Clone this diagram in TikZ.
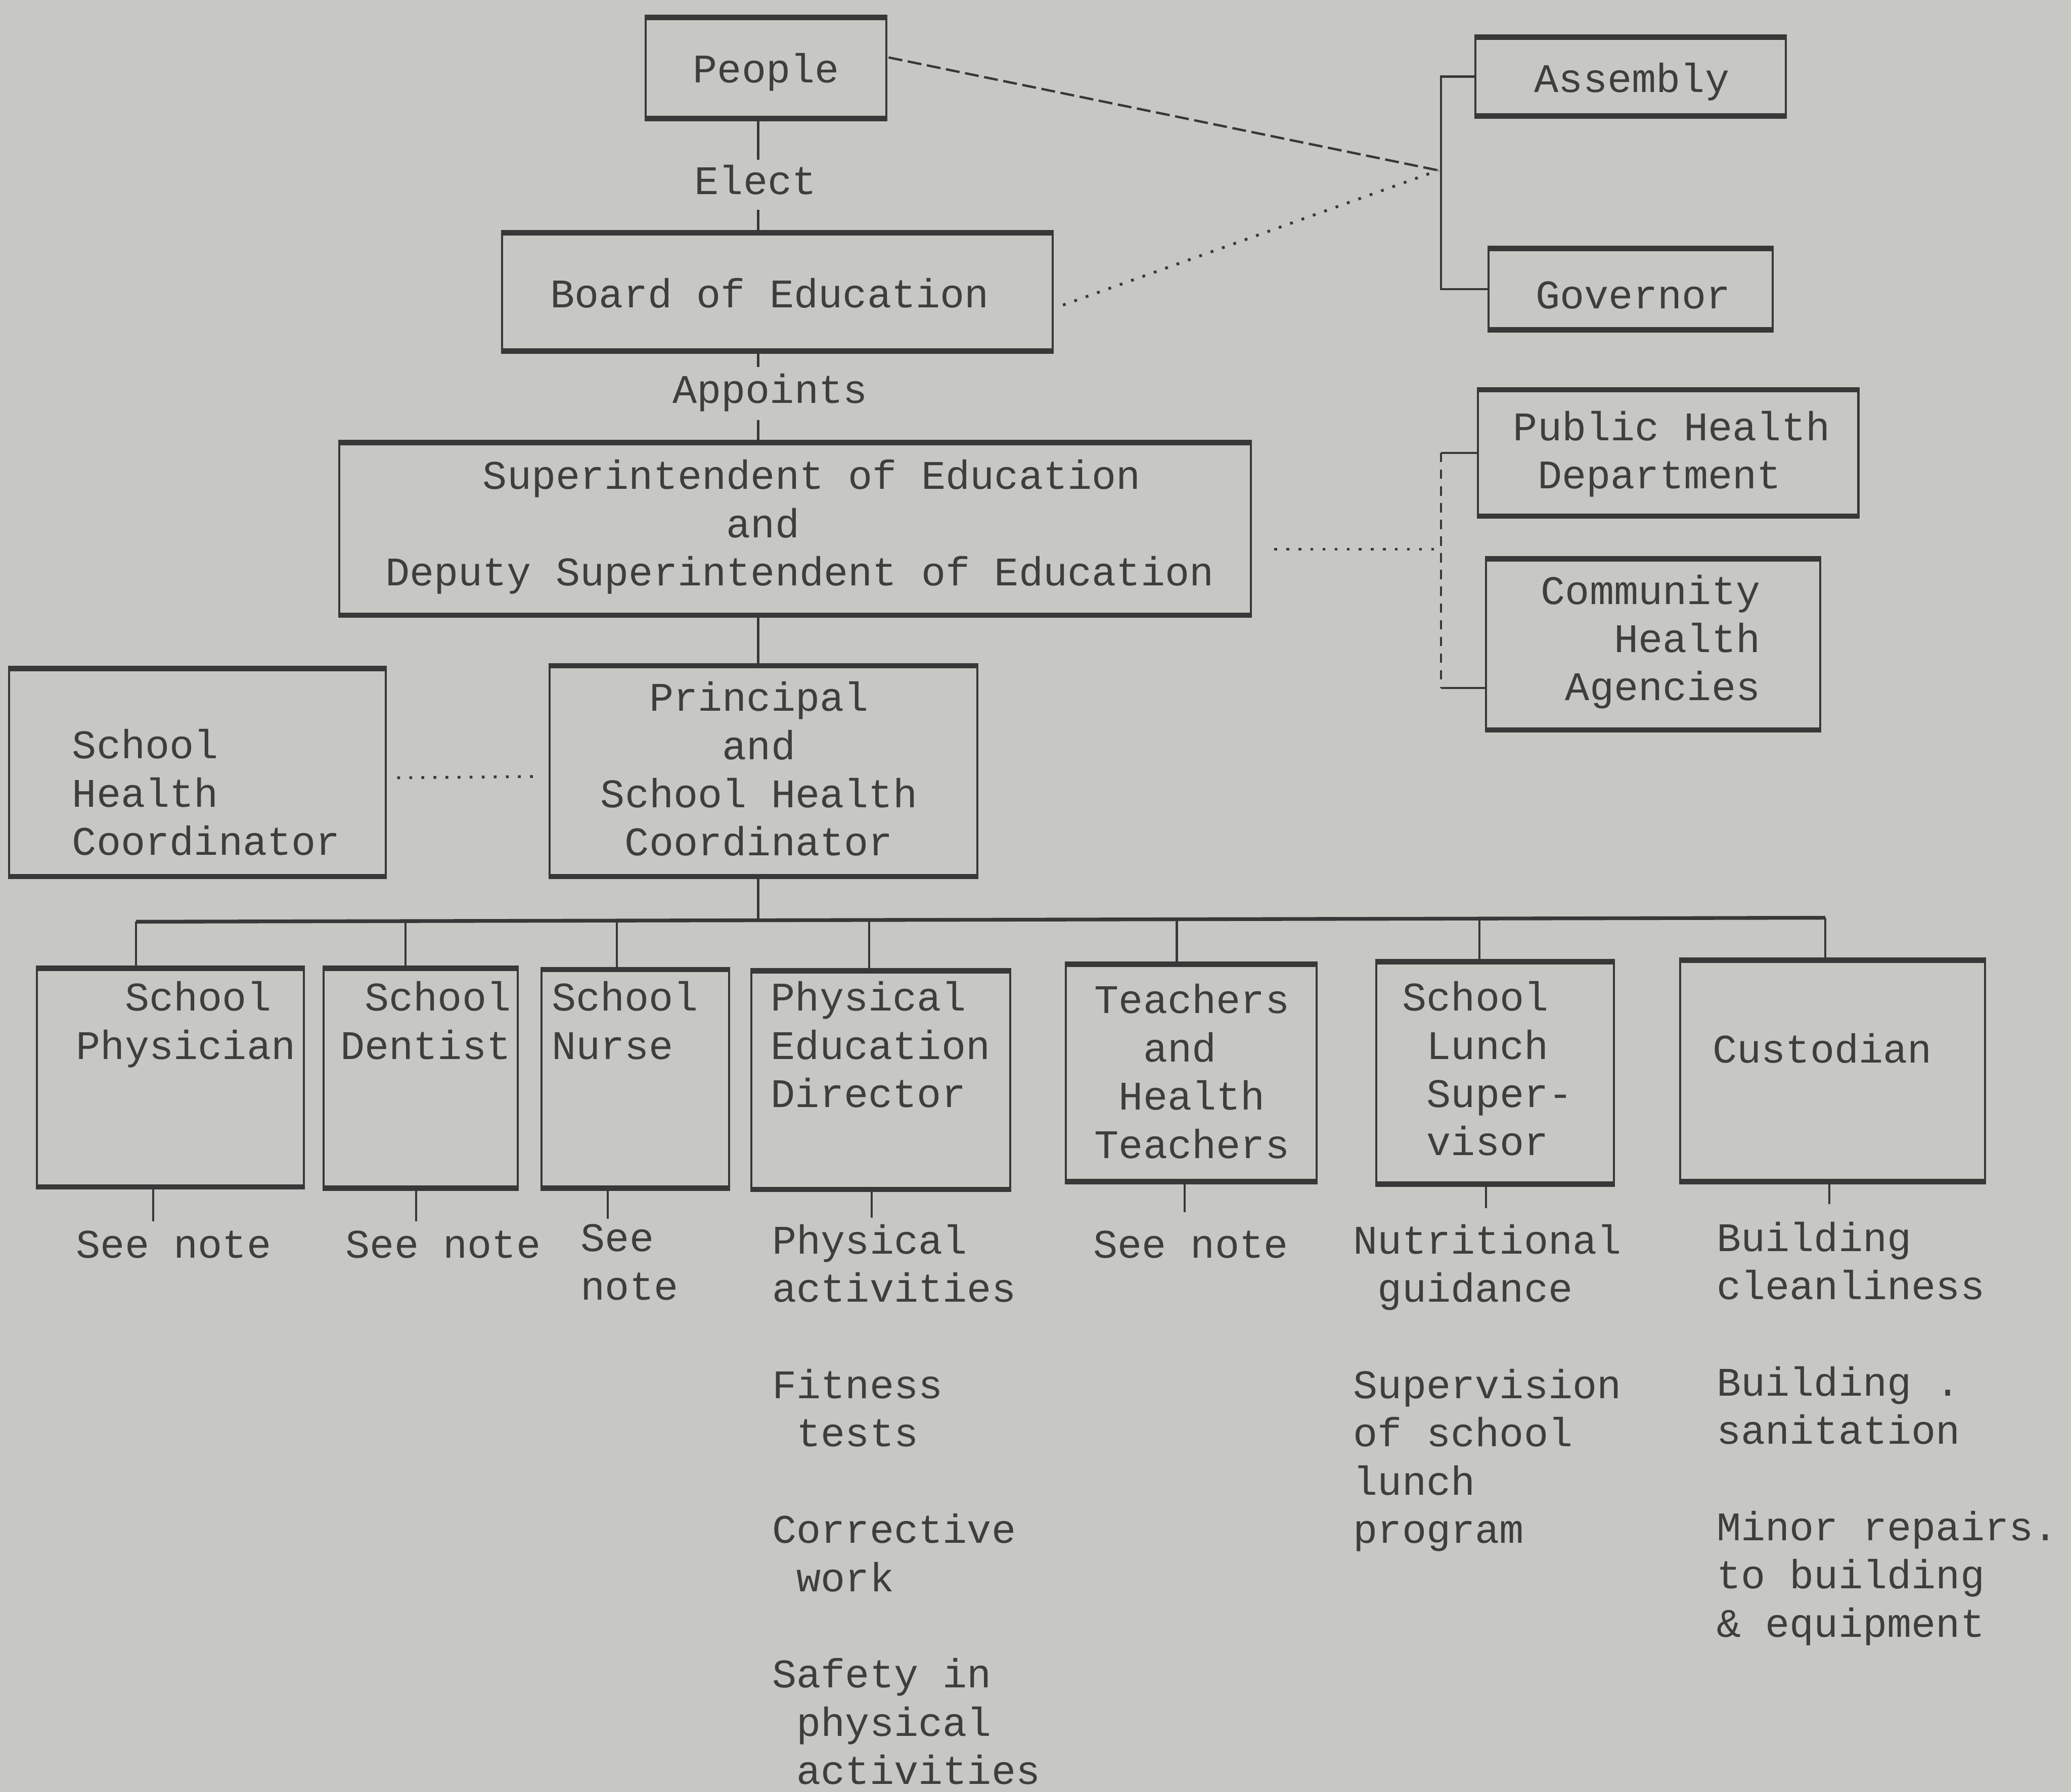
\documentclass[tikz,border=0pt]{standalone}
\usepackage{fontspec}
\newfontfamily\tyfam{Liberation Mono}
\usetikzlibrary{calc}
\definecolor{paper}{RGB}{199,199,196}
\definecolor{ink}{RGB}{56,56,56}
\definecolor{tink}{RGB}{62,62,62}
\newcommand\tyfont{\tyfam\fontsize{8.75}{10.39}\selectfont}
\newcommand\sk[1]{\hspace*{#1\dimexpr 0.6em\relax}}
\tikzset{
  boxs/.style={draw=ink, line width=0.45pt, rectangle, inner sep=0pt},
  heavy/.style={draw=ink, line width=1.15pt},
  conn/.style={draw=ink, line width=0.45pt},
  busline/.style={draw=ink, line width=0.8pt},
  dotline/.style={draw=ink, line width=0.6pt, dotted},
  dashline/.style={draw=ink, line width=0.5pt, dash pattern=on 3pt off 1.2pt},
  dashv/.style={draw=ink, line width=0.5pt, dash pattern=on 2pt off 1.6pt},
  txt/.style={inner sep=0pt, anchor=north west, align=left, font=\tyfont, text=tink, execute at begin node=\strut, yshift=-0.45mm},
  lbl/.style={inner xsep=0pt, inner ysep=0pt, anchor=center, font=\tyfont, text=tink, execute at begin node=\strut}
}
\newcommand\mkbox[5]{%
  \node[boxs, minimum width={(#4-#2)*0.1mm}, minimum height={(#5-#3)*0.1mm}] (#1) at ({(#2+#4)/2},{(#3+#5)/2}) {};
  \draw[heavy] (#1.north west) -- (#1.north east);
  \draw[heavy] (#1.south west) -- (#1.south east);
}
\begin{document}
\begin{tikzpicture}[x=0.1mm, y=-0.1mm]
\fill[paper] (0,0) rectangle (1568,1357);
\useasboundingbox (0,0) rectangle (1568,1357);

% boxes
\mkbox{people}{489}{14}{671}{89}
\mkbox{board}{380}{177}{797}{265}
\mkbox{supt}{257}{336}{947}{465}
\mkbox{principal}{416}{505}{740}{663}
\mkbox{shc}{7}{507}{292}{663}
\mkbox{assembly}{1117}{29}{1352}{87}
\mkbox{governor}{1127}{189}{1342}{249}
\mkbox{publichealth}{1119}{296}{1407}{390}
\mkbox{community}{1125}{424}{1378}{552}
\mkbox{physician}{28}{734}{230}{898}
\mkbox{dentist}{245}{734}{392}{899}
\mkbox{nurse}{410}{735}{552}{899}
\mkbox{physed}{569}{736}{765}{900}
\mkbox{teachers}{807}{731}{997}{894}
\mkbox{lunch}{1042}{729}{1222}{896}
\mkbox{custodian}{1272}{728}{1503}{894}

% labels on the spine
\node[lbl] (elect) at (572,140) {Elect};
\node[lbl, inner ysep=0.1mm] (appoints) at (583,298) {Appoints};

% spine
\coordinate (sp) at (574,0);
\coordinate (bus) at (574,696.9);
\draw[conn] (sp |- people.south) -- (sp |- elect.north);
\draw[conn] (sp |- elect.south) -- (sp |- board.north);
\draw[conn] (sp |- board.south) -- (sp |- appoints.north);
\draw[conn] (sp |- appoints.south) -- (sp |- supt.north);
\draw[conn] (sp |- supt.south) -- (sp |- principal.north);
\draw[conn] (sp |- principal.south) -- (bus);

% bus and drops
\coordinate (d1) at (103,698);
\coordinate (d2) at (307,697.5);
\coordinate (d3) at (467,697.1);
\coordinate (d4) at (658,696.7);
\coordinate (d5) at (891,696.2);
\coordinate (d6) at (1120,695.6);
\coordinate (d7) at (1382,695);
\draw[busline] (d1) -- (d7);
\draw[conn] (d1) -- (d1 |- physician.north);
\draw[conn] (d2) -- (d2 |- dentist.north);
\draw[conn] (d3) -- (d3 |- nurse.north);
\draw[conn] (d4) -- (d4 |- physed.north);
\draw[conn] (d5) -- (d5 |- teachers.north);
\draw[conn] (d6) -- (d6 |- lunch.north);
\draw[conn] (d7) -- (d7 |- custodian.north);

% stubs below boxes
\coordinate (e1) at (116,925);
\coordinate (e2) at (315,925);
\coordinate (e3) at (460,923);
\coordinate (e4) at (660,922);
\coordinate (e5) at (897,918);
\coordinate (e6) at (1125,915);
\coordinate (e7) at (1385,912);
\draw[conn] (e1 |- physician.south) -- (e1);
\draw[conn] (e2 |- dentist.south) -- (e2);
\draw[conn] (e3 |- nurse.south) -- (e3);
\draw[conn] (e4 |- physed.south) -- (e4);
\draw[conn] (e5 |- teachers.south) -- (e5);
\draw[conn] (e6 |- lunch.south) -- (e6);
\draw[conn] (e7 |- custodian.south) -- (e7);

% dotted link between coordinators
\draw[dotline] ($(shc.east)+(8,4)$) -- ($(principal.west)+(-6,4)$);

% state bracket
\coordinate (br) at (1089,129);
\coordinate (brx) at (1091,0);
\draw[dashline] ($(people.east)+(1,-8)$) -- (br);
\draw[dotline] ($(board.east)+(7,10)$) -- (br);
\draw[conn] (assembly.west) -- (assembly.west -| brx) -- (governor.west -| brx) -- (governor.west);

% health bracket
\coordinate (hx) at (1091,0);
\coordinate (hb) at (0,521);
\draw[dotline] ($(supt.east)+(17,15.5)$) -- ($(supt.east -| hx)+(0,15.5)$);
\draw[conn] (publichealth.west) -- (publichealth.west -| hx);
\draw[dashv] (publichealth.west -| hx) -- (hx |- hb);
\draw[conn] (hx |- hb) -- (hb -| community.west);

% box texts
\node[txt] (tpeople) at (524,32) {People};
\node[txt] (tboard) at (416,202) {Board of Education};
\node[txt] (tsupt) at (291,343) {\sk{4}Superintendent of Education\\\sk{14}and\\Deputy Superintendent of Education};
\node[txt] (tprin) at (454,511) {\sk{2}Principal\\\sk{5}and\\School Health\\\sk{1}Coordinator};
\node[txt] (tshc) at (54,547) {School\\Health\\Coordinator};
\node[txt] (tassembly) at (1161,39) {Assembly};
\node[txt] (tgov) at (1162,203) {Governor};
\node[txt] (tph) at (1145,306) {Public Health\\\sk{1}Department};
\node[txt] (tcom) at (1166,430) {Community\\\sk{3}Health\\\sk{1}Agencies};
\node[txt] (tphys) at (57,738) {\sk{2}School\\Physician};
\node[txt] (tdent) at (257,738) {\sk{1}School\\Dentist};
\node[txt] (tnurse) at (417,738) {School\\Nurse};
\node[txt] (tped) at (583,738) {Physical\\Education\\Director};
\node[txt] (tteach) at (828,740) {Teachers\\\sk{2}and\\\sk{1}Health\\Teachers};
\node[txt] (tlunch) at (1061,738) {School\\\sk{1}Lunch\\\sk{1}Super-\\\sk{1}visor};
\node[txt] (tcust) at (1296,774) {Custodian};

% notes below
\node[txt] (n1) at (57,922) {See note};
\node[txt] (n2) at (261,922) {See note};
\node[txt] (n3) at (439,922) {See\\note};
\node[txt] (n4) at (584,922) {Physical\\activities\\\strut\\Fitness\\\sk{1}tests\\\strut\\Corrective\\\sk{1}work\\\strut\\Safety in\\\sk{1}physical\\\sk{1}activities};
\node[txt] (n5) at (827,922) {See note};
\node[txt] (n6) at (1024,922) {Nutritional\\\sk{1}guidance\\\strut\\Supervision\\of school\\lunch\\program};
\node[txt] (n7) at (1299,920) {Building\\cleanliness\\\strut\\Building .\\sanitation\\\strut\\Minor repairs.\\to building\\\& equipment};
\end{tikzpicture}
\end{document}
